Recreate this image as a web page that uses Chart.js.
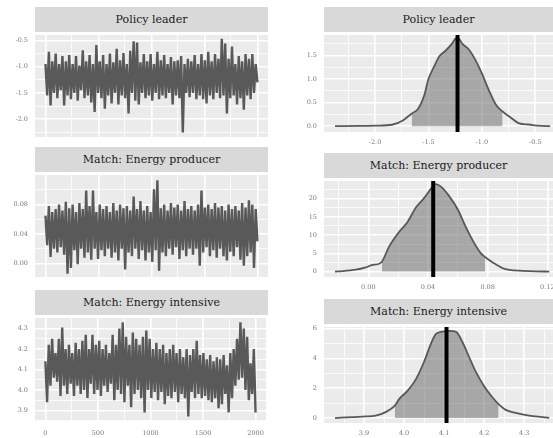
<!DOCTYPE html>
<html>
<head>
<meta charset="utf-8">
<script src="https://cdn.jsdelivr.net/npm/chart.js@4.4.1/dist/chart.umd.min.js"></script>
<style>
html, body { margin: 0; padding: 0; width: 553px; height: 438px; overflow: hidden; background: #fff; }
.strip {
    position: absolute; background: #D9D9D9; color: #1a1a1a;
    font-family: 'DejaVu Serif', serif; font-size: 11px;
    text-align: center; height: 25px; line-height: 25px;
}
canvas { position: absolute; }
</style>
</head>
<body>
<script>
// ============================================
// DATA
// ============================================

// trace plots: one kept draw every 16 iterations (0 .. 2000)
const traceStep = 16;

const tracePolicy = [
    -0.95,-1.55,-0.72,-1.74,-0.9,-1.5,-0.75,-1.6,-0.95,-1.45,
    -0.8,-1.74,-0.9,-1.55,-0.78,-1.62,-0.95,-1.5,-0.8,-1.65,
    -0.98,-1.45,-0.69,-1.6,-0.9,-1.55,-0.78,-1.68,-0.95,-1.86,
    -0.59,-1.5,-0.9,-1.6,-0.78,-1.8,-0.95,-1.55,-0.75,-1.7,
    -0.92,-1.5,-0.66,-1.72,-0.88,-1.55,-0.74,-1.6,-0.95,-1.89,
    -0.7,-1.5,-0.52,-1.65,-0.54,-1.72,-0.92,-1.5,-0.76,-1.6,
    -0.9,-1.55,-0.76,-1.65,-0.95,-1.5,-0.72,-1.62,-0.88,-1.55,
    -0.78,-1.6,-0.95,-1.5,-0.82,-1.72,-0.9,-1.55,-0.88,-1.6,
    -0.8,-2.25,-0.95,-1.5,-0.85,-1.58,-0.9,-1.5,-0.78,-1.62,
    -0.95,-1.55,-0.76,-1.62,-0.88,-1.7,-0.72,-1.55,-0.9,-1.62,
    -0.76,-1.5,-0.85,-1.6,-0.47,-1.55,-0.56,-1.89,-0.85,-1.6,
    -0.62,-1.55,-0.95,-1.72,-0.8,-1.6,-0.9,-1.82,-0.76,-1.55,
    -0.85,-1.62,-0.76,-1.5,-0.95,-1.3
];

const traceProducer = [
    0.065,0.025,0.078,0.009,0.07,0.02,0.074,0.015,0.08,0.022,
    0.072,0.012,0.084,-0.014,0.075,-0.006,0.08,0.018,0.07,-0.001,
    0.082,0.02,0.074,0.008,0.099,0.015,0.078,0.005,0.099,0.02,
    0.07,0.006,0.08,0.018,0.074,0.01,0.078,0.02,0.07,0.008,
    0.082,0.015,0.072,0.004,0.08,0.02,0.075,-0.008,0.078,0.015,
    0.072,0.01,0.091,0.02,0.074,0.006,0.085,0.018,0.072,0.004,
    0.078,0.015,0.07,0.002,0.101,0.018,0.113,-0.01,0.075,0.015,
    0.08,0.01,0.072,0.02,0.082,0.012,0.076,0.022,0.08,0.006,
    0.072,0.018,0.085,0.01,0.074,0.02,0.078,0.012,0.072,0.02,
    0.08,-0.003,0.099,0.015,0.076,0.022,0.08,0.01,0.074,0.018,
    0.082,0.008,0.076,0.02,0.078,0.01,0.072,0.004,0.08,0.016,
    0.074,0.01,0.078,0.022,0.072,0.005,0.082,-0.003,0.076,0.01,
    0.086,0.015,0.08,-0.006,0.074,0.03
];

const traceIntensive = [
    4.14,3.94,4.22,4.02,4.25,4.06,4.18,4.04,4.25,3.97,
    4.305,4.02,4.2,3.98,4.22,4.03,4.18,3.97,4.23,4.02,
    4.2,3.98,4.24,4.0,4.27,3.96,4.2,4.03,4.27,3.98,
    4.22,4.0,4.24,3.97,4.2,4.02,4.22,3.99,4.18,4.03,
    4.27,3.95,4.22,4.0,4.3,3.98,4.33,3.94,4.26,4.02,
    4.22,3.915,4.28,3.98,4.25,4.0,4.22,3.96,4.26,3.89,
    4.29,4.0,4.25,3.96,4.2,3.99,4.23,3.95,4.2,3.99,
    4.22,3.93,4.18,3.97,4.2,3.96,4.22,3.99,4.18,3.94,
    4.2,3.98,4.16,3.96,4.2,3.87,4.17,3.99,4.2,3.96,
    4.24,3.98,4.17,3.96,4.18,3.97,4.15,3.95,4.17,3.94,
    4.14,3.96,4.16,3.91,4.15,3.93,4.17,3.98,4.12,3.89,
    4.18,3.96,4.2,4.02,4.25,4.05,4.33,4.06,4.3,4.0,
    4.26,3.95,4.13,3.98,4.2,3.89
];

// densities (x, density), posterior mean and shaded interval
const densPolicyX = [-2.375,-2.15,-1.99,-1.84,-1.74,-1.656,-1.6,-1.54,-1.5,-1.45,-1.4,-1.34,-1.28,-1.25,-1.225,-1.18,-1.12,-1.05,-1.0,-0.93,-0.87,-0.806,-0.74,-0.65,-0.56,-0.47,-0.36];
const densPolicyY = [0,0.005,0.01,0.03,0.12,0.27,0.36,0.65,1.0,1.25,1.48,1.6,1.75,1.85,1.87,1.74,1.62,1.36,1.12,0.74,0.46,0.31,0.2,0.06,0.035,0.01,0];
const policyMean = -1.228;
const policyInterval = [-1.656, -0.806];

const densProducerX = [-0.0223,-0.0173,-0.0084,-0.0017,0.0028,0.0062,0.0091,0.014,0.0207,0.0263,0.0319,0.0375,0.0431,0.0453,0.0487,0.0542,0.0599,0.0654,0.071,0.0755,0.0782,0.0834,0.0901,0.0945,0.1035,0.1124,0.1213];
const densProducerY = [0,0.1,0.5,1.15,1.8,2.0,2.7,6.9,10.9,13.6,17.6,20.2,23.3,24.0,23.3,20.7,17.1,12.2,7.8,5.0,4.0,2.5,0.9,0.45,0.2,0.05,0];
const producerMean = 0.0435;
const producerInterval = [0.0091, 0.0782];

const densIntensiveX = [3.8275,3.871,3.904,3.929,3.954,3.977,3.9875,4.008,4.029,4.05,4.067,4.079,4.096,4.1125,4.129,4.146,4.1625,4.179,4.2,4.221,4.236,4.254,4.279,4.3125,4.346,4.3625];
const densIntensiveY = [0,0.07,0.11,0.17,0.4,0.83,1.27,1.81,2.58,3.78,4.98,5.63,5.81,5.85,5.81,5.09,4.1,3.12,2.14,1.38,0.94,0.55,0.35,0.17,0.07,0.02];
const intensiveMean = 4.106;
const intensiveInterval = [3.977, 4.236];

// tick labels (major) and minor grid positions
const iterTicks = [0, 500, 1000, 1500, 2000];
const iterMinor = [250, 750, 1250, 1750];
const policyTraceTicks = [-2.0, -1.5, -1.0, -0.5];
const policyTraceMinor = [-2.25, -1.75, -1.25, -0.75];
const producerTraceTicks = [0.00, 0.04, 0.08];
const producerTraceMinor = [0.02, 0.06, 0.10];
const intensiveTraceTicks = [3.9, 4.0, 4.1, 4.2, 4.3];
const intensiveTraceMinor = [3.85, 3.95, 4.05, 4.15, 4.25];

const policyDensXTicks = [-2.0, -1.5, -1.0, -0.5];
const policyDensXMinor = [-2.25, -1.75, -1.25, -0.75];
const policyDensYTicks = [0.0, 0.5, 1.0, 1.5];
const policyDensYMinor = [0.25, 0.75, 1.25, 1.75];
const producerDensXTicks = [0.00, 0.04, 0.08, 0.12];
const producerDensXMinor = [-0.02, 0.02, 0.06, 0.10];
const producerDensYTicks = [0, 5, 10, 15, 20];
const producerDensYMinor = [2.5, 7.5, 12.5, 17.5, 22.5];
const intensiveDensXTicks = [3.9, 4.0, 4.1, 4.2, 4.3];
const intensiveDensXMinor = [3.85, 3.95, 4.05, 4.15, 4.25, 4.35];
const intensiveDensYTicks = [0, 2, 4, 6];
const intensiveDensYMinor = [1, 3, 5];

// ============================================
// HELPERS
// ============================================

const TICK_FONT = { family: 'DejaVu Serif', size: 6.5 };
const TICK_COLOR = '#7A7A7A';
const Y_AXIS_W = 34;
const PAD_TOP = 8;

function isMajor(v, majors) {
    return majors.some(m => Math.abs(m - v) < 1e-9);
}

function makeScale(min, max, majors, minors, digits, opts) {
    return {
        type: 'linear',
        min: min,
        max: max,
        border: { display: false },
        grid: {
            color: '#FFFFFF',
            drawTicks: false,
            lineWidth: c => (c.tick && isMajor(c.tick.value, majors)) ? 1.6 : 0.8
        },
        ticks: {
            display: opts.labels,
            autoSkip: false,
            maxRotation: 0,
            padding: opts.padding,
            color: TICK_COLOR,
            font: TICK_FONT,
            callback: v => isMajor(v, majors) ? v.toFixed(digits) : ''
        },
        afterBuildTicks: s => {
            s.ticks = majors.concat(minors).sort((a, b) => a - b).map(v => ({ value: v }));
        },
        afterFit: s => {
            if (opts.isX) s.height = opts.size; else s.width = opts.size;
        }
    };
}

const panelBg = {
    id: 'panelBg',
    beforeDraw(chart) {
        const a = chart.chartArea;
        const ctx = chart.ctx;
        ctx.save();
        ctx.fillStyle = '#EBEBEB';
        ctx.fillRect(a.left, a.top, a.right - a.left, a.bottom - a.top);
        ctx.restore();
    }
};

function addPanel(p, datasets, xScale, yScale) {
    const strip = document.createElement('div');
    strip.className = 'strip';
    strip.style.left = p.left + 'px';
    strip.style.top = (p.top - 25) + 'px';
    strip.style.width = p.w + 'px';
    strip.textContent = p.title;
    document.body.appendChild(strip);

    const cv = document.createElement('canvas');
    cv.width = Y_AXIS_W + p.w + p.padR;
    cv.height = PAD_TOP + p.h + p.xH + p.padB;
    cv.style.left = (p.left - Y_AXIS_W) + 'px';
    cv.style.top = (p.top - PAD_TOP) + 'px';
    document.body.appendChild(cv);

    new Chart(cv, {
        type: 'line',
        data: { datasets: datasets },
        options: {
            responsive: false,
            animation: false,
            events: [],
            layout: { padding: { top: PAD_TOP, right: p.padR, bottom: p.padB, left: 0 } },
            plugins: { legend: { display: false }, tooltip: { enabled: false } },
            scales: { x: xScale, y: yScale }
        },
        plugins: [panelBg]
    });
}

function tracePanel(p, values, yMin, yMax, yTicks, yMinor, yDigits) {
    const pts = values.map((v, i) => ({ x: i * traceStep, y: v }));
    const ds = [{
        data: pts,
        borderColor: '#595959',
        borderWidth: 2.4,
        pointRadius: 0,
        tension: 0
    }];
    const xs = makeScale(-99, 2100, iterTicks, iterMinor, 0,
        { labels: p.xH > 0, padding: 8, isX: true, size: p.xH });
    const ys = makeScale(yMin, yMax, yTicks, yMinor, yDigits,
        { labels: true, padding: 7, isX: false, size: Y_AXIS_W });
    addPanel(p, ds, xs, ys);
}

function densityPanel(p, dx, dy, mean, interval, xr, yr, xt, xm, xd, yt, ym, yd) {
    const curve = dx.map((x, i) => ({ x: x, y: dy[i] }));
    const shade = curve.filter(pt => pt.x >= interval[0] && pt.x <= interval[1]);
    const ds = [
        { data: [{ x: mean, y: yr[0] }, { x: mean, y: yr[1] }], borderColor: '#000000',
          borderWidth: 4, pointRadius: 0, tension: 0, order: 0 },
        { data: curve, borderColor: '#585858', borderWidth: 1.8, pointRadius: 0,
          cubicInterpolationMode: 'monotone', fill: false, order: 1 },
        { data: shade, borderColor: 'rgba(0,0,0,0)', borderWidth: 0, pointRadius: 0,
          backgroundColor: 'rgba(100,100,100,0.5)', fill: 'origin',
          cubicInterpolationMode: 'monotone', order: 2 }
    ];
    const xs = makeScale(xr[0], xr[1], xt, xm, xd,
        { labels: true, padding: 6, isX: true, size: p.xH });
    const ys = makeScale(yr[0], yr[1], yt, ym, yd,
        { labels: true, padding: 7, isX: false, size: Y_AXIS_W });
    addPanel(p, ds, xs, ys);
}

// ============================================
// LEFT COLUMN: TRACES
// ============================================

tracePanel({ title: 'Policy leader', left: 35, top: 32, w: 233, h: 108, xH: 0, padB: 8, padR: 4 },
    tracePolicy, -2.34, -0.397, policyTraceTicks, policyTraceMinor, 1);
tracePanel({ title: 'Match: Energy producer', left: 35, top: 172, w: 233, h: 108, xH: 0, padB: 8, padR: 4 },
    traceProducer, -0.0185, 0.1204, producerTraceTicks, producerTraceMinor, 2);
tracePanel({ title: 'Match: Energy intensive', left: 35, top: 315, w: 233, h: 106, xH: 20, padB: 0, padR: 4 },
    traceIntensive, 3.848, 4.352, intensiveTraceTicks, intensiveTraceMinor, 1);

// ============================================
// RIGHT COLUMN: DENSITIES
// ============================================

densityPanel({ title: 'Policy leader', left: 324, top: 32, w: 229, h: 100, xH: 18, padB: 0, padR: 12 },
    densPolicyX, densPolicyY, policyMean, policyInterval, [-2.478, -0.334], [-0.124, 1.936],
    policyDensXTicks, policyDensXMinor, 1, policyDensYTicks, policyDensYMinor, 1);
densityPanel({ title: 'Match: Energy producer', left: 324, top: 178, w: 229, h: 99, xH: 18, padB: 0, padR: 12 },
    densProducerX, densProducerY, producerMean, producerInterval, [-0.0297, 0.1238], [-1.5, 24.87],
    producerDensXTicks, producerDensXMinor, 2, producerDensYTicks, producerDensYMinor, 0);
densityPanel({ title: 'Match: Energy intensive', left: 324, top: 324, w: 229, h: 99, xH: 18, padB: 0, padR: 12 },
    densIntensiveX, densIntensiveY, intensiveMean, intensiveInterval, [3.8, 4.372], [-0.33, 6.12],
    intensiveDensXTicks, intensiveDensXMinor, 1, intensiveDensYTicks, intensiveDensYMinor, 0);
</script>
</body>
</html>
